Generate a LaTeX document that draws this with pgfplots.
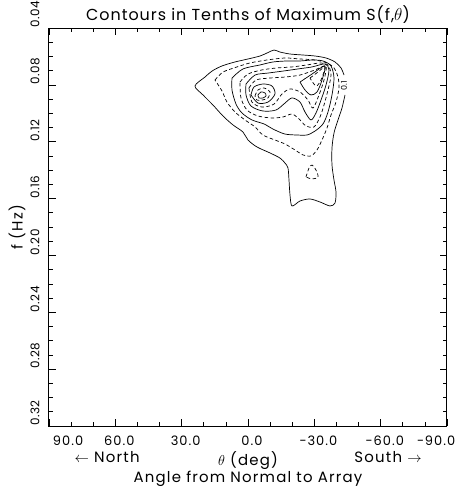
\documentclass[border=0pt]{standalone}
\usepackage{pgfplots}
\pgfplotsset{compat=1.18}
\usepackage{fontspec}
\setmainfont{Poppins}
\newcommand{\lab}{\fontsize{15}{17}\selectfont\addfontfeatures{LetterSpace=8}}
\newcommand{\tic}{\fontsize{13}{15}\selectfont\addfontfeatures{LetterSpace=8}}
\newcommand{\ytic}{\fontsize{12}{14}\selectfont\addfontfeatures{LetterSpace=4}}
\pgfplotsset{
  cs/.style={black, line width=0.7pt, smooth, tension=0.5, mark=none},
  cd/.style={cs, dash pattern=on 3.5bp off 2.5bp},
}
\begin{document}
\begin{tikzpicture}
\begin{axis}[
  width=398bp, height=398bp, scale only axis,
  xmin=-90, xmax=90, ymin=0.04, ymax=0.32,
  x dir=reverse, y dir=reverse,
  xtick={-90,-60,-30,0,30,60,90},
  xticklabels={\makebox[0pt]{\hspace*{-30bp}−90.0},−60.0,−30.0,0.0,30.0,60.0,\makebox[0pt][l]{90.0}},
  minor x tick num=2,
  ytick={0.04,0.08,0.12,0.16,0.20,0.24,0.28,0.32},
  yticklabels={0.04,0.08,0.12,0.16,0.20,0.24,0.28,0.32},
  minor y tick num=3,
  tick align=inside,
  major tick length=7bp, minor tick length=4bp,
  axis line style={line width=1pt},
  every tick/.style={black, line width=0.6pt},
  xticklabel style={font=\tic, yshift=-6bp, xshift=4bp},
  yticklabel style={font=\ytic, xshift=-14bp, rotate=90, anchor=west, inner xsep=0pt},
  /pgf/number format/assume math mode=true,
  clip=false,
]
% 0.1 solid outer
\addplot[cs] coordinates {
(-43.87,0.0871) (-42.51,0.0963) (-40.70,0.1047) (-38.89,0.1139) (-37.99,0.1244)
(-37.99,0.1364) (-38.89,0.1469) (-39.80,0.1554) (-39.35,0.1631) (-37.09,0.1652)
(-32.56,0.1624) (-28.04,0.1603) (-23.52,0.1617) (-19.90,0.1652) (-19.00,0.1575)
(-18.54,0.1469) (-18.09,0.1385) (-16.73,0.1350) (-14.47,0.1315) (-9.95,0.1279)
(-4.07,0.1237) (0.00,0.1188) (2.26,0.1132) (6.79,0.1082) (11.31,0.1019)
(15.83,0.0942) (20.35,0.0871) (23.97,0.0808) (19.45,0.0745) (16.28,0.0703)
(11.76,0.0667) (5.88,0.0639) (0.00,0.0618) (-5.43,0.0597) (-8.59,0.0576)
(-11.76,0.0555) (-14.47,0.0569) (-19.00,0.0583) (-24.87,0.0590) (-30.30,0.0597)
(-35.28,0.0611) (-39.35,0.0639) (-42.06,0.0681) (-43.42,0.0731)
};
% 0.2 dashed
\addplot[cd] coordinates {
(14.93,0.0766) (11.31,0.0710) (4.98,0.0674) (-0.90,0.0646) (-8.59,0.0625)
(-16.73,0.0611) (-23.52,0.0618) (-30.30,0.0625) (-35.73,0.0646) (-38.89,0.0681)
(-40.70,0.0745) (-41.16,0.0822) (-39.80,0.0921) (-37.54,0.1012) (-35.73,0.1104)
(-33.47,0.1188) (-31.21,0.1258) (-28.49,0.1300) (-24.87,0.1293) (-21.26,0.1258)
(-16.73,0.1216) (-12.21,0.1188) (-6.78,0.1153) (-3.17,0.1096) (1.36,0.1047)
(5.88,0.0991) (9.50,0.0921) (11.76,0.0843) (14.93,0.0766)
};
\addplot[cd] coordinates {
(-26.23,0.1448) (-27.59,0.1385) (-28.94,0.1364) (-30.75,0.1399) (-31.66,0.1448)
(-28.94,0.1462) (-26.23,0.1448)
};
% 0.3 solid
\addplot[cs] coordinates {
(7.24,0.0752) (2.26,0.0688) (-5.43,0.0660) (-11.31,0.0639) (-17.64,0.0632)
(-23.52,0.0632) (-29.40,0.0625) (-33.92,0.0632) (-37.54,0.0667) (-38.89,0.0752)
(-37.99,0.0871) (-36.18,0.0991) (-33.92,0.1075) (-30.30,0.1125) (-26.68,0.1153)
(-22.61,0.1153) (-16.73,0.1146) (-11.31,0.1111) (-7.24,0.1075) (-1.81,0.1047)
(2.71,0.0998) (5.43,0.0935) (7.24,0.0836) (7.24,0.0752)
};
% 0.4 dashed
\addplot[cd] coordinates {
(3.62,0.0780) (0.00,0.0724) (-6.33,0.0695) (-13.12,0.0681) (-19.90,0.0674)
(-26.68,0.0660) (-32.56,0.0646) (-36.18,0.0660) (-37.54,0.0731) (-36.18,0.0836)
(-34.37,0.0942) (-32.56,0.1026) (-29.85,0.1096) (-26.23,0.1089) (-23.07,0.1040)
(-19.90,0.1005) (-15.83,0.1026) (-10.85,0.1033) (-4.52,0.1019) (0.45,0.0977)
(3.17,0.0892) (3.62,0.0780)
};
% 0.5 solid
\addplot[cs] coordinates {
(0.90,0.0794) (-3.17,0.0731) (-9.05,0.0717) (-15.83,0.0703) (-22.61,0.0688)
(-28.94,0.0674) (-34.82,0.0653) (-36.63,0.0695) (-35.28,0.0801) (-33.02,0.0907)
(-30.75,0.0998) (-28.49,0.1047) (-25.78,0.0991) (-23.52,0.0921) (-19.90,0.0892)
(-16.73,0.0928) (-12.66,0.0977) (-6.78,0.0984) (-1.36,0.0949) (0.90,0.0871)
(0.90,0.0794)
};
% 0.6 dashed
\addplot[cd] coordinates {
(-0.45,0.0822) (-3.62,0.0766) (-9.95,0.0752) (-16.73,0.0745) (-23.52,0.0731)
(-30.30,0.0695) (-35.28,0.0667) (-34.37,0.0766) (-32.11,0.0871) (-29.40,0.0963)
(-27.14,0.0907) (-23.52,0.0850) (-19.00,0.0829) (-15.38,0.0864) (-11.76,0.0935)
(-6.33,0.0956) (-1.81,0.0921) (-0.45,0.0822)
};
% 0.7 solid
\addplot[cs] coordinates {
(-1.36,0.0871) (-2.71,0.0815) (-6.78,0.0794) (-10.85,0.0808) (-12.21,0.0864)
(-9.05,0.0921) (-4.52,0.0928) (-1.36,0.0871)
};
\addplot[cs] coordinates {
(-23.52,0.0780) (-28.94,0.0724) (-34.82,0.0667) (-33.47,0.0766) (-31.21,0.0850)
(-28.49,0.0871) (-25.78,0.0836) (-23.52,0.0780)
};
% 0.8 dashed
\addplot[cd] coordinates {
(-3.17,0.0878) (-4.52,0.0836) (-7.24,0.0822) (-9.95,0.0850) (-9.05,0.0892)
(-6.33,0.0907) (-4.07,0.0907) (-3.17,0.0878)
};
\addplot[cd] coordinates {
(-28.04,0.0752) (-31.66,0.0710) (-34.82,0.0674) (-33.02,0.0766) (-30.75,0.0808)
(-28.04,0.0752)
};
% 0.9 solid
\addplot[cs] coordinates {
(-4.52,0.0871) (-5.88,0.0850) (-7.69,0.0857) (-8.14,0.0878) (-6.78,0.0892)
(-4.97,0.0892) (-4.52,0.0871)
};
\node[rotate=90, font=\fontsize{8}{9}\selectfont, inner sep=0pt] at (axis cs:-43.42,0.0808) {0.1};
\node[anchor=base, font=\fontsize{16}{18}\selectfont\addfontfeatures{LetterSpace=6}] at (axis description cs:0.5,1) [yshift=8bp] {Contours in Tenths of Maximum S(f,$\theta$)};
\node[anchor=base, font=\lab] at (axis description cs:0.146,0) [yshift=-36bp] {$\leftarrow$ North};
\node[anchor=base, font=\lab] at (axis description cs:0.852,0) [yshift=-36bp] {South $\rightarrow$};
\node[anchor=base, font=\lab] at (axis description cs:0.5,0) [yshift=-39bp] {$\theta$ (deg)};
\node[anchor=base, font=\lab] at (axis description cs:0.5,0) [yshift=-56bp] {Angle from Normal to Array};
\node[xshift=-32bp, rotate=90, font=\lab] at (axis description cs:0,0.5) {f (Hz)};
\coordinate (bl) at (axis description cs:0,0);
\coordinate (tr) at (axis description cs:1,1);
\end{axis}
\pgfresetboundingbox
\path[use as bounding box] (bl) ++(-49bp,-64bp) rectangle ([shift={(23bp,28bp)}]tr);
\end{tikzpicture}
\end{document}
